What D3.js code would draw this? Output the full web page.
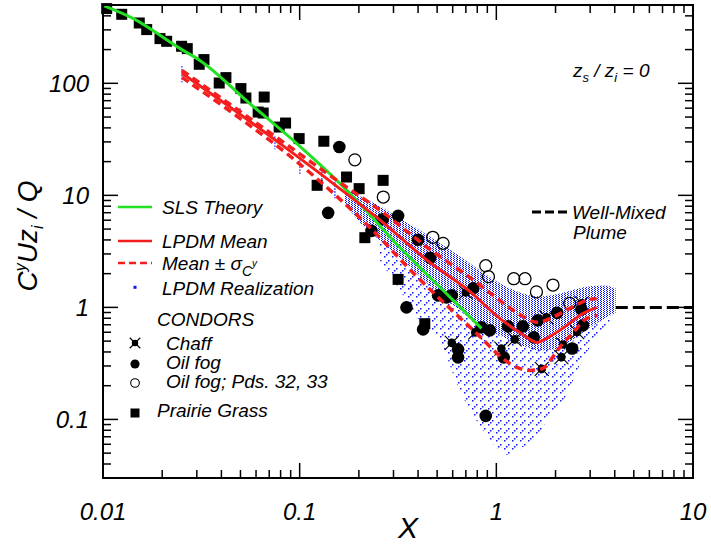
<!DOCTYPE html>
<html><head><meta charset="utf-8">
<script src="https://cdn.jsdelivr.net/npm/d3@7"></script>
<style>
html,body{margin:0;padding:0;background:#fff;}
svg text{font-family:"Liberation Sans",Arial,Helvetica,sans-serif;font-style:italic;fill:#000;}
</style></head><body><div id="chart"></div>
<script>
// SLS theory curve
const slsX = [0.01, 0.0142, 0.0246, 0.0311, 0.0558, 0.0967, 0.1545, 0.195, 0.31, 0.53, 0.84];
const slsY = [497, 380, 205, 160, 66, 29, 13.6, 9.0, 3.7, 1.45, 0.65];
// LPDM mean and mean +/- sigma
const meanX = [0.0252, 0.0497, 0.0871, 0.1545, 0.2647, 0.4587, 0.733, 1.0407, 1.315, 1.62, 1.80, 2.28, 2.653, 3.24];
const meanY = [122.8, 52.9, 25.7, 12.03, 5.74, 2.52, 1.39, 0.798, 0.598, 0.487, 0.529, 0.691, 0.848, 1.0];
const upX = [0.0252, 0.0497, 0.0871, 0.1545, 0.2647, 0.4587, 0.733, 1.0407, 1.315, 1.62, 1.934, 2.361, 2.88, 3.24];
const upY = [130.6, 56.2, 27.9, 13.61, 7.05, 3.30, 1.853, 1.155, 0.866, 0.735, 0.814, 0.98, 1.155, 1.2];
const loX = [0.0252, 0.0497, 0.0871, 0.1545, 0.2355, 0.376, 0.56, 0.8235, 1.078, 1.27, 1.478, 1.72, 1.934, 2.10, 2.44, 2.88, 3.27];
const loY = [113.1, 48.7, 23.2, 9.80, 4.87, 2.05, 1.04, 0.551, 0.350, 0.291, 0.274, 0.285, 0.358, 0.44, 0.586, 0.797, 0.848];
// LPDM realizations: early columns, dense band, sparse tail
const colX = [0.0252, 0.0497, 0.0748, 0.1002, 0.1297, 0.151];
const colHi = [141.8, 59.8, 33.6, 20.5, 16.05, 13.06];
const colLo = [102, 48.7, 25.8, 15.4, 12.03, 9.4];
const bandX = [0.1697, 0.2022, 0.2556, 0.3229, 0.4081, 0.5158, 0.6516, 0.8235, 1.0407, 1.315, 1.662, 2.10, 2.503, 2.983, 3.555, 4.044];
const bandHi = [11.55, 9.80, 7.98, 6.23, 4.87, 3.73, 2.85, 2.14, 1.64, 1.36, 1.254, 1.333, 1.447, 1.54, 1.57, 1.477];
const bandLo = [8.48, 5.74, 3.96, 2.74, 1.89, 1.31, 0.94, 0.691, 0.562, 0.467, 0.413, 0.430, 0.529, 0.663, 0.797, 0.902];
const spX = [0.2556, 0.3229, 0.4081, 0.5158, 0.6516, 0.8235, 1.0407, 1.17, 1.315, 1.567, 1.867, 2.227, 2.653, 3.162, 3.77];
const spHi = [3.96, 2.74, 1.89, 1.31, 0.94, 0.691, 0.562, 0.51, 0.467, 0.43, 0.42, 0.44, 0.58, 0.69, 0.85];
const spLo = [2.63, 1.42, 0.765, 0.507, 0.181, 0.0884, 0.053, 0.0477, 0.0551, 0.065, 0.1086, 0.154, 0.303, 0.507, 0.691];
// observations
const pgX = [0.01044, 0.01245, 0.01529, 0.01668, 0.01949, 0.02107, 0.0251, 0.02682, 0.03086, 0.03261, 0.03899, 0.04217, 0.05026, 0.05328, 0.066, 0.0615, 0.06524, 0.07865, 0.08479, 0.0994, 0.1327, 0.1731, 0.2006, 0.1227, 0.2657, 0.2145, 0.3166, 0.4328];
const pgY = [464.5, 413, 345.5, 301.7, 250.6, 237.1, 214, 204, 147.8, 162.8, 100.6, 112.4, 89.7, 73.9, 75.4, 55.4, 54.3, 40.7, 44.2, 32.1, 30.4, 14.57, 11.48, 12.29, 13.61, 4.19, 1.778, 0.715];
const ofX = [0.1591, 0.1396, 0.2319, 0.2647, 0.3166, 0.4, 0.4614, 0.3493, 0.5057, 0.5578, 0.5937, 0.7634, 0.4242, 0.6389, 0.6389, 0.8401, 0.9258, 0.8834, 1.0904, 1.147, 1.362, 1.549, 1.623, 2.039, 2.43, 2.706, 2.757];
const ofY = [27.0, 6.98, 4.82, 6.11, 6.56, 4.02, 2.77, 1.0, 1.28, 1.228, 1.28, 1.477, 0.636, 0.422, 0.358, 0.663, 0.623, 0.1075, 0.358, 0.677, 0.677, 0.54, 0.765, 0.893, 0.43, 0.96, 0.691];
const opX = [0.1908, 0.2662, 0.4751, 0.5361, 0.8834, 0.9118, 1.226, 1.399, 1.599, 1.941, 2.361];
const opY = [20.75, 9.66, 4.22, 3.73, 2.357, 1.88, 1.804, 1.804, 1.375, 1.582, 1.086];
const chX = [0.5937, 0.781, 1.0614, 1.24, 1.701, 2.142, 1.797, 2.183, 2.577, 0.699, 2.716];
const chY = [0.482, 0.598, 0.428, 0.518, 0.2825, 0.36, 0.814, 0.467, 0.602, 1.361, 1.086];
const wmX = [4.05, 10];
const wmY = [1, 1];
// ticks
const xMajor = [0.01, 0.1, 1, 10];
const xLabels = ["0.01", "0.1", "1", "10"];
const yMajor = [0.1, 1, 10, 100];
const yLabels = ["0.1", "1", "10", "100"];

const W = 711, H = 547;
const M = { top: 5, right: 18, bottom: 69, left: 103 };
const GREEN = "#22e022", RED = "#f41e1e", BLUE = "#0a14ff";

const svg = d3.select("#chart").append("svg").attr("width", W).attr("height", H);
const x = d3.scaleLog().domain([0.01, 10]).range([M.left, W - M.right]);
const y = d3.scaleLog().domain([0.03, 500]).range([H - M.bottom, M.top]);

const defs = svg.append("defs");
const pd = defs.append("pattern").attr("id", "dense").attr("patternUnits", "userSpaceOnUse").attr("width", 3).attr("height", 2);
pd.append("rect").attr("x", 0).attr("y", 0).attr("width", 1).attr("height", 1).attr("fill", BLUE);
pd.append("rect").attr("x", 1).attr("y", 1).attr("width", 1).attr("height", 1).attr("fill", BLUE);
const ps = defs.append("pattern").attr("id", "sparse").attr("patternUnits", "userSpaceOnUse").attr("width", 8).attr("height", 8);
ps.append("rect").attr("x", 0).attr("y", 0).attr("width", 1.5).attr("height", 1.5).attr("fill", BLUE);
ps.append("rect").attr("x", 4).attr("y", 4).attr("width", 1.5).attr("height", 1.5).attr("fill", BLUE);
ps.append("rect").attr("x", 2).attr("y", 6).attr("width", 1.5).attr("height", 1.5).attr("fill", BLUE);

const zip2 = (a, b) => a.map((v, i) => [v, b[i]]);
const zip3 = (a, b, c) => a.map((v, i) => [v, b[i], c[i]]);

// ---- realizations
const area = d3.area().x((d) => x(d[0])).y0((d) => y(d[2])).y1((d) => y(d[1])).curve(d3.curveMonotoneX);
svg.append("path").attr("d", area(zip3(spX, spHi, spLo))).attr("fill", "url(#sparse)");
svg.append("path").attr("d", area(zip3(bandX, bandHi, bandLo))).attr("fill", "url(#dense)");
svg.append("g").selectAll("line").data(zip3(colX, colHi, colLo)).join("line")
  .attr("x1", (d) => x(d[0])).attr("x2", (d) => x(d[0]))
  .attr("y1", (d) => y(d[1])).attr("y2", (d) => y(d[2]))
  .attr("stroke", BLUE).attr("stroke-width", 1.4).attr("stroke-dasharray", "1.3,1.7");

// ---- observations
const gObs = svg.append("g");
gObs.selectAll(".pg").data(zip2(pgX, pgY)).join("rect").attr("class", "pg")
  .attr("x", (d) => x(d[0]) - 5.5).attr("y", (d) => y(d[1]) - 5.5).attr("width", 11).attr("height", 11).attr("fill", "#000");
gObs.selectAll(".of").data(zip2(ofX, ofY)).join("circle").attr("class", "of")
  .attr("cx", (d) => x(d[0])).attr("cy", (d) => y(d[1])).attr("r", 6.3).attr("fill", "#000");
gObs.selectAll(".op").data(zip2(opX, opY)).join("circle").attr("class", "op")
  .attr("cx", (d) => x(d[0])).attr("cy", (d) => y(d[1])).attr("r", 6).attr("fill", "none").attr("stroke", "#000").attr("stroke-width", 1.3);
function chaff(g, s) {
  g.append("circle").attr("r", 4.3 * s).attr("fill", "#000");
  g.append("path").attr("d", `M${-7 * s},${-7 * s}L${7 * s},${7 * s}M${-7 * s},${7 * s}L${7 * s},${-7 * s}`)
    .attr("stroke", "#000").attr("stroke-width", 1.1);
}
gObs.selectAll(".ch").data(zip2(chX, chY)).join("g").attr("class", "ch")
  .attr("transform", (d) => `translate(${x(d[0])},${y(d[1])})`).each(function () { chaff(d3.select(this), 1); });

// ---- curves
const line = d3.line().x((d) => x(d[0])).y((d) => y(d[1])).curve(d3.curveMonotoneX);
svg.append("path").attr("d", line(zip2(slsX, slsY))).attr("fill", "none").attr("stroke", GREEN).attr("stroke-width", 3);
svg.append("path").attr("d", line(zip2(upX, upY))).attr("fill", "none").attr("stroke", RED).attr("stroke-width", 3.5).attr("stroke-dasharray", "8,5");
svg.append("path").attr("d", line(zip2(loX, loY))).attr("fill", "none").attr("stroke", RED).attr("stroke-width", 3.5).attr("stroke-dasharray", "8,5");
svg.append("path").attr("d", line(zip2(meanX, meanY))).attr("fill", "none").attr("stroke", RED).attr("stroke-width", 3);
svg.append("path").attr("d", d3.line().x((d) => x(d[0])).y((d) => y(d[1]))(zip2(wmX, wmY)))
  .attr("fill", "none").attr("stroke", "#000").attr("stroke-width", 3).attr("stroke-dasharray", "12,5");

// ---- axes (ticks inward, mirrored)
const ih = H - M.bottom, iw = W - M.right;
const xMinor = x.ticks().filter((v) => !xMajor.some((m) => Math.abs(m - v) < 1e-9));
const yMinor = y.ticks().filter((v) => !yMajor.some((m) => Math.abs(m - v) < 1e-9));
const gAx = svg.append("g").attr("stroke", "#000").attr("stroke-width", 1.5);
const tk = (vals, len, fn) => vals.forEach((v) => fn(v, len));
const vx = (v, len) => { gAx.append("line").attr("x1", x(v)).attr("x2", x(v)).attr("y1", ih).attr("y2", ih - len);
  gAx.append("line").attr("x1", x(v)).attr("x2", x(v)).attr("y1", M.top).attr("y2", M.top + len); };
const vy = (v, len) => { gAx.append("line").attr("y1", y(v)).attr("y2", y(v)).attr("x1", M.left).attr("x2", M.left + len);
  gAx.append("line").attr("y1", y(v)).attr("y2", y(v)).attr("x1", iw).attr("x2", iw - len); };
tk(xMajor, 15, vx); tk(xMinor, 8, vx);
tk(yMajor, 15, vy); tk(yMinor, 8, vy);
svg.append("rect").attr("x", M.left).attr("y", M.top).attr("width", iw - M.left).attr("height", ih - M.top)
  .attr("fill", "none").attr("stroke", "#000").attr("stroke-width", 2);

svg.append("g").selectAll("text").data(xMajor).join("text")
  .attr("x", (d) => x(d)).attr("y", ih + 42).attr("text-anchor", "middle").style("font-size", "24px")
  .text((d, i) => xLabels[i]);
svg.append("g").selectAll("text").data(yMajor).join("text")
  .attr("x", M.left - 14).attr("y", (d) => y(d) + 8.5).attr("text-anchor", "end").style("font-size", "24px")
  .text((d, i) => yLabels[i]);

svg.append("text").attr("x", 408).attr("y", 538).attr("text-anchor", "middle").style("font-size", "30px").text("X");
const yl = svg.append("text").attr("transform", "translate(37,236) rotate(-90)").attr("text-anchor", "middle").style("font-size", "28px");
yl.append("tspan").text("C");
yl.append("tspan").attr("dy", -11).style("font-size", "16px").text("y");
yl.append("tspan").attr("dy", 11).text("Uz");
yl.append("tspan").attr("dy", 6).style("font-size", "16px").text("i");
yl.append("tspan").attr("dy", -6).text(" / Q");

// ---- annotation
const an = svg.append("text").attr("x", 573).attr("y", 77).style("font-size", "19px");
an.append("tspan").text("z");
an.append("tspan").attr("dy", 5).style("font-size", "13px").text("s");
an.append("tspan").attr("dy", -5).text(" / z");
an.append("tspan").attr("dy", 5).style("font-size", "13px").text("i");
an.append("tspan").attr("dy", -5).text(" = 0");

svg.append("line").attr("x1", 532).attr("x2", 568).attr("y1", 212).attr("y2", 212)
  .attr("stroke", "#000").attr("stroke-width", 3).attr("stroke-dasharray", "9,4");
svg.append("text").attr("x", 572).attr("y", 219).style("font-size", "19px").text("Well-Mixed");
svg.append("text").attr("x", 573).attr("y", 239).style("font-size", "19px").text("Plume");

// ---- legend
const lg = svg.append("g").style("font-size", "19px");
const lx0 = 118, lx1 = 152, ltx = 162;
lg.append("line").attr("x1", lx0).attr("x2", lx1).attr("y1", 207).attr("y2", 207).attr("stroke", GREEN).attr("stroke-width", 2.5);
lg.append("text").attr("x", ltx).attr("y", 214).text("SLS Theory");
lg.append("line").attr("x1", lx0).attr("x2", lx1).attr("y1", 241).attr("y2", 241).attr("stroke", RED).attr("stroke-width", 2.5);
lg.append("text").attr("x", ltx).attr("y", 248).text("LPDM Mean");
lg.append("line").attr("x1", lx0).attr("x2", lx1).attr("y1", 263).attr("y2", 263).attr("stroke", RED).attr("stroke-width", 2.5).attr("stroke-dasharray", "7,4");
const ms = lg.append("text").attr("x", ltx).attr("y", 270);
ms.append("tspan").text("Mean \u00b1 \u03c3");
ms.append("tspan").attr("dy", 6).style("font-size", "14px").text("C");
ms.append("tspan").attr("dy", -9).style("font-size", "10px").text("y");
lg.append("rect").attr("x", 133.5).attr("y", 285.8).attr("width", 3).attr("height", 3).attr("fill", BLUE);
lg.append("text").attr("x", ltx).attr("y", 295).text("LPDM Realization");
lg.append("text").attr("x", 157).attr("y", 326).text("CONDORS");
chaff(lg.append("g").attr("transform", "translate(135,343)"), 0.75);
lg.append("text").attr("x", 166).attr("y", 350).text("Chaff");
lg.append("circle").attr("cx", 135).attr("cy", 364).attr("r", 4.6).attr("fill", "#000");
lg.append("text").attr("x", 166).attr("y", 369).text("Oil fog");
lg.append("circle").attr("cx", 135).attr("cy", 383).attr("r", 4.3).attr("fill", "none").attr("stroke", "#000").attr("stroke-width", 1.1);
lg.append("text").attr("x", 166).attr("y", 388).text("Oil fog; Pds. 32, 33");
lg.append("rect").attr("x", 130.5).attr("y", 408.5).attr("width", 9).attr("height", 9).attr("fill", "#000");
lg.append("text").attr("x", 157).attr("y", 417).text("Prairie Grass");
</script></body></html>
